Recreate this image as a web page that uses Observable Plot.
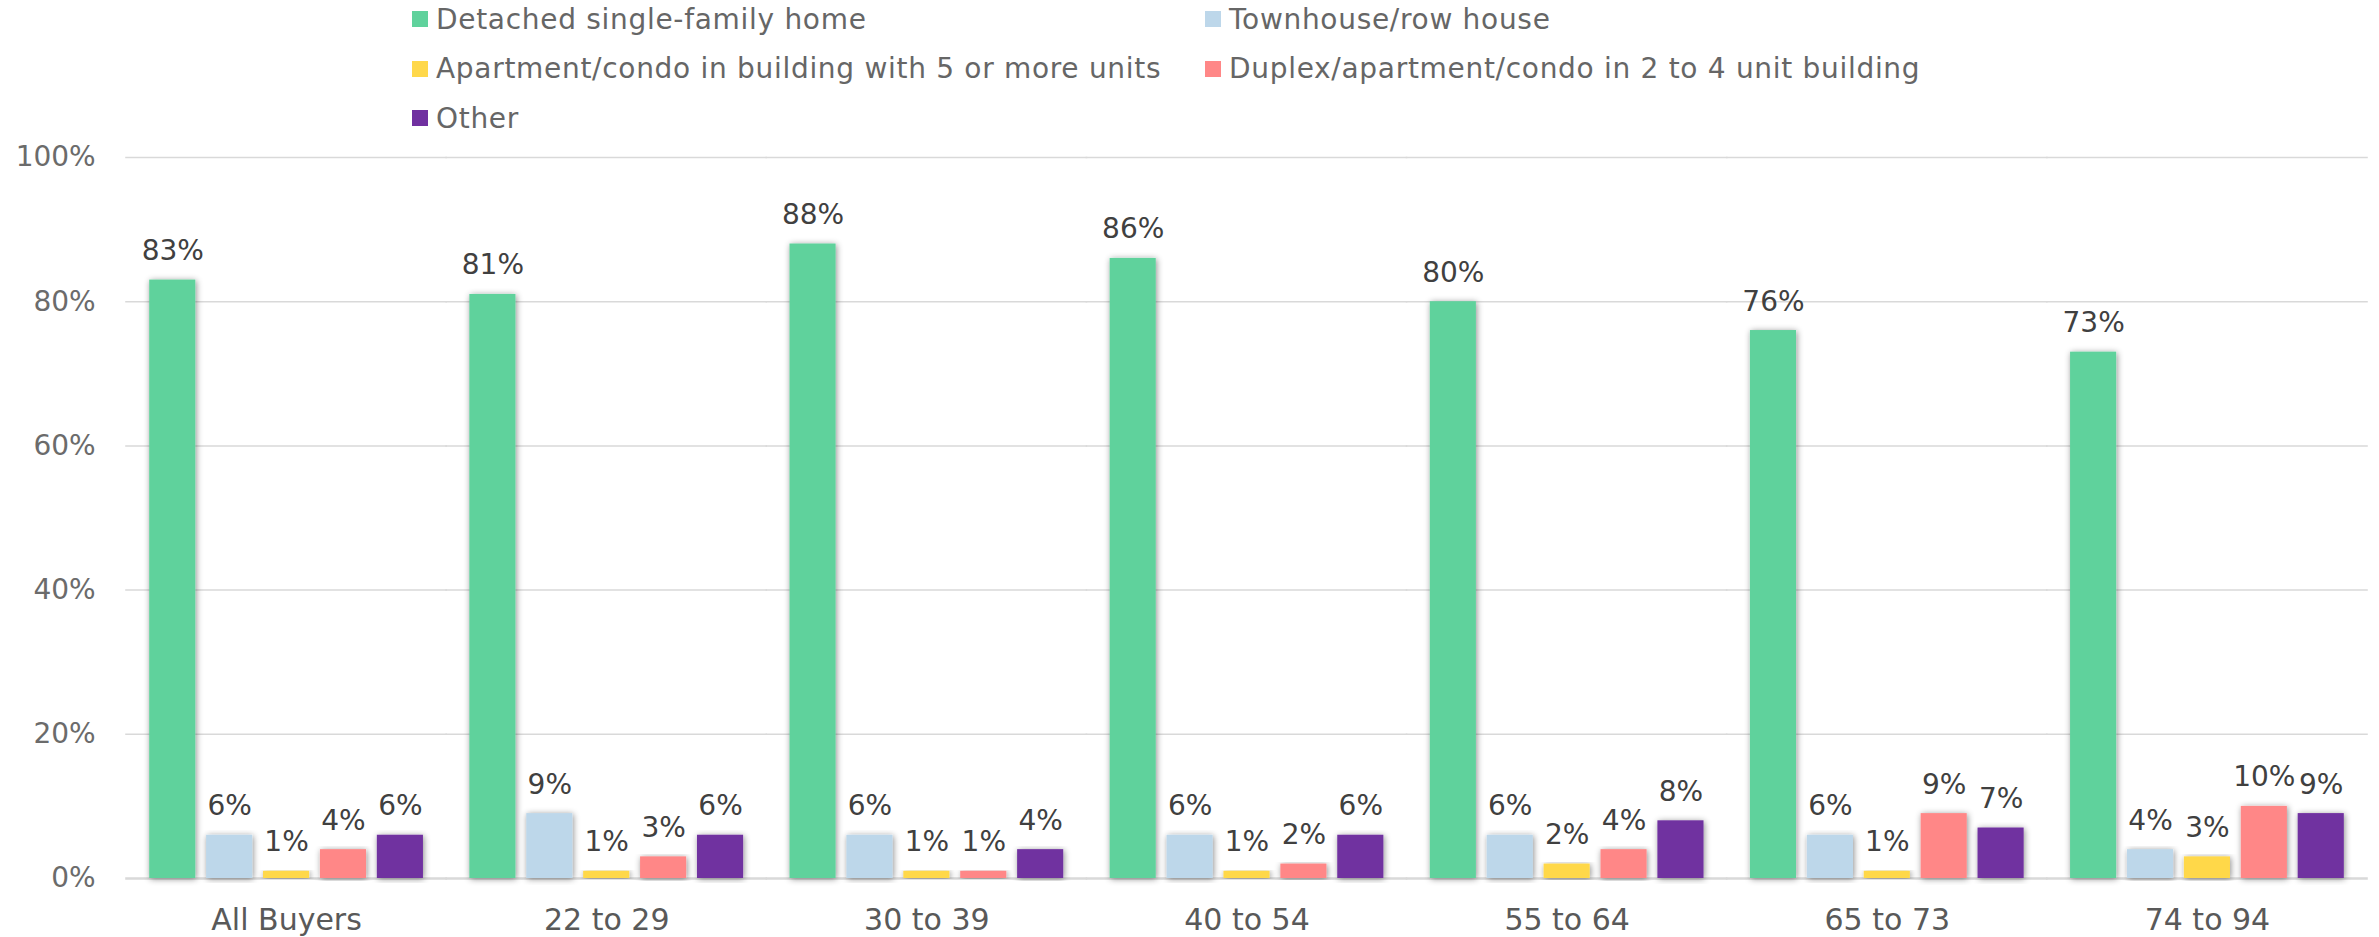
<!DOCTYPE html>
<html>
<head>
<meta charset="utf-8">
<script src="https://cdn.jsdelivr.net/npm/d3@7"></script>
<script src="https://cdn.jsdelivr.net/npm/@observablehq/plot@0.6"></script>
<style>
  html, body { margin: 0; padding: 0; background: #fff; }
  body { width: 2379px; height: 937px; overflow: hidden; font-family: "DejaVu Sans", sans-serif; position: relative; }
  #legend {
    position: absolute; left: 0; top: 0; z-index: 2;
    box-sizing: border-box; padding-top: 1px; padding-left: 412px;
    display: grid; grid-template-columns: 793px auto; grid-auto-rows: 36px; row-gap: 13.5px;
  }
  .item { display: flex; align-items: center; font-size: 28px; letter-spacing: 0.7px; color: #666; white-space: nowrap; }
  .sw { width: 16px; height: 16px; margin-right: 8px; flex: none; }
  #chart svg { display: block; }
</style>
</head>
<body>
<div id="legend"></div>
<div id="chart"></div>
<script>
const categories = ["All Buyers", "22 to 29", "30 to 39", "40 to 54", "55 to 64", "65 to 73", "74 to 94"];
const series = [
  "Detached single-family home",
  "Townhouse/row house",
  "Apartment/condo in building with 5 or more units",
  "Duplex/apartment/condo in 2 to 4 unit building",
  "Other"
];
const colors = ["#5FD29C", "#BDD7EA", "#FFD84A", "#FF8787", "#7030A0"];
const detached  = [83, 81, 88, 86, 80, 76, 73];
const townhouse = [6, 9, 6, 6, 6, 6, 4];
const apartment5 = [1, 1, 1, 1, 2, 1, 3];
const duplex    = [4, 3, 1, 2, 4, 9, 10];
const other     = [6, 6, 4, 6, 8, 7, 9];
const yTicks = [0, 20, 40, 60, 80, 100];

const seriesValues = [detached, townhouse, apartment5, duplex, other];
const data = [];
categories.forEach((c, i) => {
  series.forEach((s, j) => data.push({category: c, series: s, value: seriesValues[j][i]}));
});

// Legend
const legend = document.getElementById("legend");
series.forEach((s, j) => {
  const it = document.createElement("div");
  it.className = "item";
  const sw = document.createElement("span");
  sw.className = "sw";
  sw.style.background = colors[j];
  it.appendChild(sw);
  it.appendChild(document.createTextNode(s));
  legend.appendChild(it);
});

const chart = Plot.plot({
  width: 2379,
  height: 937,
  marginTop: 157,
  marginBottom: 59,
  marginLeft: 126,
  marginRight: 12,
  style: {fontFamily: "'DejaVu Sans', sans-serif", fontSize: "28px", background: "#fff"},
  fx: {domain: categories, paddingInner: 0.145, paddingOuter: 0.0725, round: false, label: null, axis: null},
  x: {domain: series, paddingInner: 0.19, paddingOuter: 0, round: false, axis: null},
  y: {domain: [0, 100], axis: null},
  color: {domain: series, range: colors},
  marks: [
    Plot.ruleY(yTicks.filter(d => d > 0), {stroke: "#d9d9d9", strokeWidth: 1.5, insetLeft: -24, insetRight: -24}),
    Plot.ruleY([0], {stroke: "#d9d9d9", strokeWidth: 2.5, insetLeft: -24, insetRight: -24}),
    Plot.axisY({ticks: yTicks, tickFormat: d => d + "%", tickSize: 0, tickPadding: 54, label: null, fontSize: 28, color: "#6b6b6b"}),
    Plot.axisFx({anchor: "bottom", tickSize: 0, tickPadding: 30, label: null, fontSize: 30, color: "#595959", letterSpacing: "1px"}),
    Plot.barY(data, {fx: "category", x: "series", y: "value", fill: "series"}),
    Plot.text(data, {fx: "category", x: "series", y: "value", text: d => d.value + "%", dy: -29, fontSize: 28, fill: "#404040"})
  ]
});
document.getElementById("chart").appendChild(chart);

// soft drop shadow on bars
const svg = d3.select(chart);
const defs = svg.insert("defs", ":first-child");
const f = defs.append("filter").attr("id", "barShadow").attr("x", "-30%").attr("y", "-10%").attr("width", "160%").attr("height", "120%");
f.append("feDropShadow").attr("dx", 1).attr("dy", 1).attr("stdDeviation", 3).attr("flood-color", "#000").attr("flood-opacity", 0.45);
svg.selectAll("rect").filter(function() { return this.closest('[aria-label="bar"]') !== null; })
  .attr("filter", "url(#barShadow)");
</script>
</body>
</html>
